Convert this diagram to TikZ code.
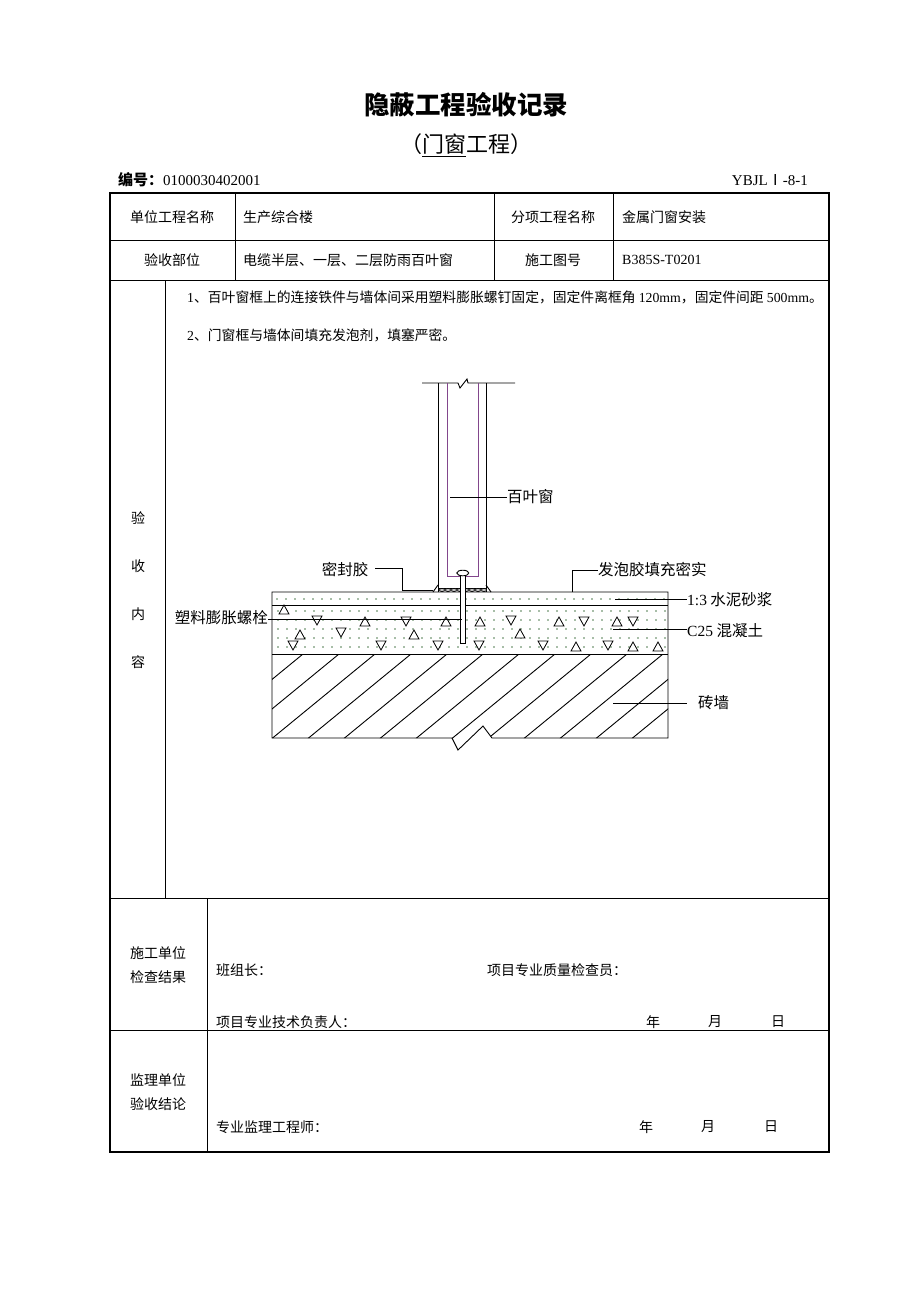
\documentclass[tikz,border=0pt]{standalone}
\usepackage{fontspec}
\setmainfont{Noto Sans CJK SC}
\newfontfamily\tnr{Liberation Serif}
\definecolor{dotc}{RGB}{80,125,80}
\definecolor{frameP}{RGB}{130,70,140}
\begin{document}
\begin{tikzpicture}[x=1pt,y=-1pt,
  cell/.style={inner sep=0pt,font=\fontsize{14}{16}\selectfont},
  lbl/.style={inner sep=0pt,font=\fontsize{15.5}{18}\selectfont},
  grid/.style={line width=1pt},
  border/.style={line width=2pt},
  part/.style={line width=0.9pt},
  leader/.style={line width=0.8pt},
  tup/.pic={\draw[line width=0.8pt,fill=white] (-5,4)--(0,-5)--(5,4)--cycle;},
  tdn/.pic={\draw[line width=0.8pt,fill=white] (-5,-5)--(0,4)--(5,-5)--cycle;}]
\useasboundingbox (0,0) rectangle (920,1302);
\fill[white] (0,0) rectangle (920,1302);

% ---- titles ----
\node[inner sep=0pt,font=\fontsize{25.5}{28}\selectfont\bfseries] (title) at (466,105) {隐蔽工程验收记录};
\node[inner sep=0pt,font=\fontsize{22}{25}\selectfont] (subtitle) at (466,145) {（\underline{门窗}工程）};
\node[inner sep=0pt,anchor=west,font=\fontsize{15}{18}\selectfont] (code) at (118,180) {{\bfseries 编号：}{\tnr 0100030402001}};
\node[inner sep=0pt,anchor=east,font=\fontsize{15}{18}\selectfont] (form) at (808,180) {{\tnr YBJL}Ⅰ{\tnr -8-1}};

% ---- table ----
\draw[border] (110,193) rectangle (829,1152);
\foreach \yy in {240,280,898,1030} \draw[grid] (110,\yy) -- (829,\yy);
\foreach \xx in {235,494,613} \draw[grid] (\xx,193) -- (\xx,280);
\draw[grid] (165,280) -- (165,898);
\draw[grid] (207,898) -- (207,1152);

\node[cell] (c11) at (172,217) {单位工程名称};
\node[cell,anchor=west] (c12) at (243,217) {生产综合楼};
\node[cell] (c13) at (553,217) {分项工程名称};
\node[cell,anchor=west] (c14) at (622,217) {金属门窗安装};
\node[cell] (c21) at (172,260) {验收部位};
\node[cell,anchor=west] (c22) at (243,260) {电缆半层、一层、二层防雨百叶窗};
\node[cell] (c23) at (553,260) {施工图号};
\node[cell,anchor=west] (c24) at (622,260) {\tnr B385S-T0201};

\node[cell] (v1) at (138,518) {验};
\node[cell] (v2) at (138,566) {收};
\node[cell] (v3) at (138,614) {内};
\node[cell] (v4) at (138,662) {容};

\node[cell,anchor=west,font=\fontsize{13.8}{16}\selectfont] (t1) at (187,297) {{\tnr 1}、百叶窗框上的连接铁件与墙体间采用塑料膨胀螺钉固定，固定件离框角 {\tnr 120mm}，固定件间距 {\tnr 500mm}。};
\node[cell,anchor=west,font=\fontsize{13.8}{16}\selectfont] (t2) at (187,335) {{\tnr 2}、门窗框与墙体间填充发泡剂，填塞严密。};

\node[cell] (s1) at (158,953) {施工单位};
\node[cell] (s2) at (158,977) {检查结果};
\node[cell,anchor=west] (s3) at (216,970) {班组长：};
\node[cell,anchor=west] (s4) at (487,970) {项目专业质量检查员：};
\node[cell,anchor=west] (s5) at (216,1022) {项目专业技术负责人：};
\node[cell] (s6) at (653,1022) {年};
\node[cell] (s7) at (715,1022) {月};
\node[cell] (s8) at (778,1022) {日};
\node[cell] (j1) at (158,1080) {监理单位};
\node[cell] (j2) at (158,1104) {验收结论};
\node[cell,anchor=west] (j3) at (216,1127) {专业监理工程师：};
\node[cell] (j4) at (646,1127) {年};
\node[cell] (j5) at (708,1127) {月};
\node[cell] (j6) at (771,1127) {日};

% ---- slab: dots ----
\foreach \x in {277,286,...,666} \fill[dotc] (\x,599) circle (0.9);
\foreach \y in {611,620,...,648} \foreach \x in {278,287,...,666} \fill[dotc] (\x,\y) circle (0.9);

% triangles
\foreach \x/\y in {284/610,365/622,446/622,300/635,414/635,480/622,520/634,559/622,617/622,576/647,633/647,658/647}
  \pic at (\x,\y) {tup};
\foreach \x/\y in {317/621,406/622,341/633,293/646,381/646,438/646,511/621,584/622,633/622,479/646,543/646,608/646}
  \pic at (\x,\y) {tdn};

% hatch of brick wall
\begin{scope}
\clip (272,654) -- (668,654) -- (668,738) -- (492,738) -- (483,726) -- (458,750) -- (452,738) -- (272,738) -- cycle;
\foreach \k in {-3,...,14} \draw[part] ({303+36*\k+20},637.6) -- ({303+36*\k-130},760.6);
\end{scope}

% slab outline and layers
\draw[part] (272,592) -- (668,592) -- (668,738) -- (492,738) -- (483,726) -- (458,750) -- (452,738) -- (272,738) -- cycle;
\draw[part] (272,605) -- (668,605);
\draw[part] (272,654) -- (668,654);

% ---- window frame ----
\draw[part] (422,383) -- (458,383) -- (460,388) -- (467,379) -- (468,383) -- (515,383);
\draw[part] (438,383) -- (438,592);
\draw[part] (486,383) -- (486,592);
\draw[part,frameP] (447,383) -- (447,576) -- (478,576) -- (478,383);
% sealant pads and fillets
\draw[line width=0.6pt] (438,588) -- (486,588);
\foreach \x in {442,448,...,484} \draw[line width=0.6pt,fill=gray!50] (\x,590) ellipse (2.6 and 1.6);
\draw[part] (433,592) -- (438,585);
\draw[part] (486,585) -- (491,592);
% bolt
\draw[part,fill=white] (460.5,574) rectangle (465,643);
\draw[part,fill=white] (462.8,573) ellipse (6 and 2.8);

% ---- labels and leaders ----
\node[lbl,anchor=west] (bye) at (507,497) {百叶窗};
\coordinate (byeP) at (450,497);
\draw[leader] (byeP) -- (byeP -| bye.west);

\node[lbl] (mfj) at (345,570) {密封胶};
\coordinate (mfjA) at (375,568);
\coordinate (mfjB) at (433,590);
\draw[leader] (mfjA) -- (402,568) -- (402,590) -- (mfjB);

\node[lbl,anchor=west] (fpj) at (598,570) {发泡胶填充密实};
\coordinate (fpjP) at (572,592);
\draw[leader] (fpjP) -- (572,570) -- (fpj.west);

\node[lbl,anchor=east] (slp) at (268,618) {塑料膨胀螺栓};
\coordinate (slpP) at (462,619);
\draw[leader] (slpP -| slp.east) -- (slpP);

\node[lbl,anchor=west] (sn) at (687,600) {{\tnr 1:3} 水泥砂浆};
\coordinate (snP) at (615,599);
\draw[leader] (snP) -- (snP -| sn.west);

\node[lbl,anchor=west] (hnt) at (687,631) {{\tnr C25} 混凝土};
\coordinate (hntP) at (613,629);
\draw[leader] (hntP) -- (hntP -| hnt.west);

\node[lbl,anchor=west] (zq) at (698,703) {砖墙};
\coordinate (zqP) at (613,703);
\draw[leader] (zqP) -- (687,703);
\end{tikzpicture}
\end{document}
